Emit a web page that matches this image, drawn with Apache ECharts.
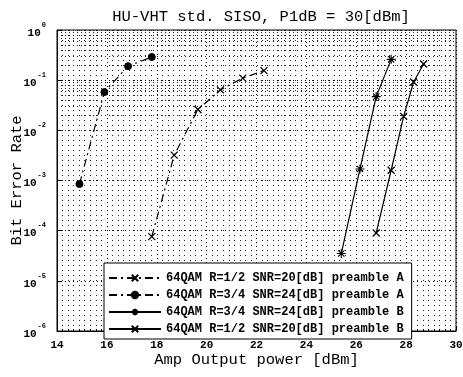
<!DOCTYPE html>
<html><head><meta charset="utf-8">
<script src="https://cdn.jsdelivr.net/npm/echarts@6/dist/echarts.min.js"></script>
<style>html,body{margin:0;padding:0;background:#fff}#c{width:463px;height:377px}</style>
</head><body><div id="c"></div>
<script>
const titleText = 'HU-VHT std. SISO, P1dB = 30[dBm]';
const seriesNames = [
  '64QAM R=1/2 SNR=20[dB] preamble A',
  '64QAM R=3/4 SNR=24[dB] preamble A',
  '64QAM R=3/4 SNR=24[dB] preamble B',
  '64QAM R=1/2 SNR=20[dB] preamble B'
];
const s1x = [17.8, 18.7, 19.65, 20.55, 21.45, 22.3];
const s1y = [7.6e-5, 3.2e-3, 0.026, 0.064, 0.11, 0.155];
const s2x = [14.9, 15.9, 16.85, 17.8];
const s2y = [8.5e-4, 0.058, 0.19, 0.29];
const s3x = [25.4, 26.15, 26.8, 27.4];
const s3y = [3.5e-5, 1.7e-3, 0.047, 0.26];
const s4x = [26.8, 27.4, 27.9, 28.3, 28.7];
const s4y = [9e-5, 1.6e-3, 0.019, 0.092, 0.21];
const xTicks = [14, 16, 18, 20, 22, 24, 26, 28, 30];
const yDecades = [-6, -5, -4, -3, -2, -1, 0];

const font = 'Liberation Mono';
const zip = (a, b) => a.map((v, i) => [v, b[i]]);
const X = 'path://M0,0L10,10M10,0L0,10';
const AST = 'path://M5,0L5,10M0,5L10,5M1.5,1.5L8.5,8.5M8.5,1.5L1.5,8.5';

const minorLines = [];
for (let d = -6; d < 0; d++) for (let m = 2; m <= 9; m++) minorLines.push({yAxis: m * Math.pow(10, d)});

const mk = (name, data, type, symbol, size, fill, bw) => ({
  name, type: 'line', data, symbol, symbolSize: size, showSymbol: true,
  lineStyle: {color: '#000', width: 1.2, type},
  itemStyle: {color: fill, borderColor: '#000', borderWidth: bw},
  z: 5, animation: false
});

const chart = echarts.init(document.getElementById('c'));
chart.setOption({
  animation: false,
  backgroundColor: '#fff',
  title: {text: titleText, left: 256, textAlign: 'center', top: 4,
    textStyle: {fontFamily: font, fontSize: 15.5, fontWeight: 'normal', color: '#000'}},
  grid: {left: 57, right: 7, top: 30, bottom: 46, show: true, borderColor: '#000', borderWidth: 1,
    containLabel: false, outerBoundsMode: 'none'},
  legend: {
    orient: 'vertical', left: 104, top: 263, width: 320, height: 71,
    backgroundColor: '#fff', borderColor: '#000', borderWidth: 1,
    padding: [9, 8, 4, 4], itemGap: 5, itemWidth: 52, itemHeight: 8,
    textStyle: {fontFamily: font, fontSize: 12, fontWeight: 'bold', color: '#000'},
    data: seriesNames
  },
  xAxis: {
    type: 'value', min: 14, max: 30, interval: 2,
    name: 'Amp Output power [dBm]', nameLocation: 'middle', nameGap: 21, nameMoveOverlap: false,
    nameTextStyle: {fontFamily: font, fontSize: 15.5, color: '#000', verticalAlign: 'top'},
    axisLine: {lineStyle: {color: '#000'}},
    axisTick: {inside: true, length: 4, lineStyle: {color: '#000'}},
    axisLabel: {fontFamily: font, fontSize: 11, fontWeight: 'bold', color: '#000', margin: 9,
      formatter: v => xTicks.includes(v) ? String(v) : ''},
    splitLine: {show: true, lineStyle: {color: '#000', type: [1, 3], width: 1}},
    minorTick: {show: true, splitNumber: 9, length: 2, lineStyle: {color: '#000'}},
    minorSplitLine: {show: true, lineStyle: {color: '#222', type: [1, 4], width: 1}}
  },
  yAxis: {
    type: 'log', logBase: 10, min: 1e-6, max: 1,
    name: 'Bit Error Rate', nameLocation: 'middle', nameGap: 32, nameMoveOverlap: false,
    nameTextStyle: {fontFamily: font, fontSize: 15.5, color: '#000'},
    axisLine: {lineStyle: {color: '#000'}},
    axisTick: {inside: true, length: 4, lineStyle: {color: '#000'}},
    axisLabel: {color: '#000', margin: 11,
      formatter: v => {
        const e = Math.round(Math.log10(v));
        return yDecades.includes(e) ? '{b|10}{s|' + e + '}' : '';
      },
      rich: {
        b: {fontFamily: font, fontSize: 11, fontWeight: 'bold', color: '#000', padding: [6, 0, 0, 0]},
        s: {fontFamily: font, fontSize: 7, fontWeight: 'bold', color: '#000', verticalAlign: 'top', padding: [0, 0, 6, 1]}
      }},
    splitLine: {show: true, lineStyle: {color: '#000', type: [1, 3], width: 1}}
  },
  series: [
    Object.assign(mk(seriesNames[0], zip(s1x, s1y), [8, 4, 2, 4], X, 7, 'none', 1.3), {
      markLine: {silent: true, symbol: 'none', label: {show: false},
        lineStyle: {color: '#222', type: [1, 3], width: 1}, data: minorLines, z: 1}
    }),
    mk(seriesNames[1], zip(s2x, s2y), [8, 4, 2, 4], 'circle', 7, '#000', 1),
    mk(seriesNames[2], zip(s3x, s3y), 'solid', AST, 9, 'none', 1.1),
    mk(seriesNames[3], zip(s4x, s4y), 'solid', X, 7, 'none', 1.3)
  ]
});
</script></body></html>
